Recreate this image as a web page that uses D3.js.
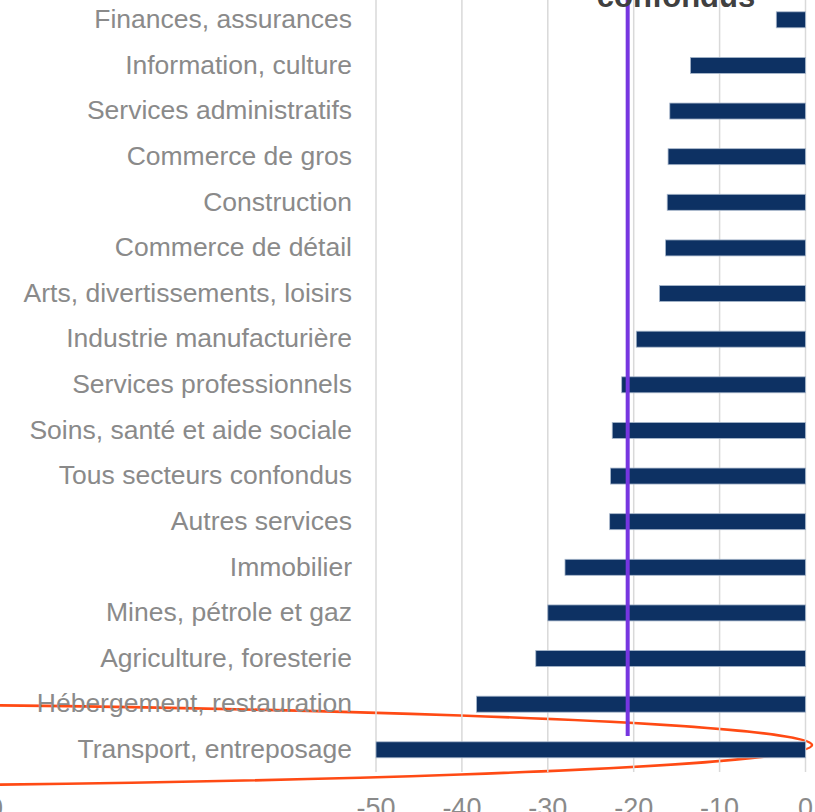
<!DOCTYPE html>
<html><head><meta charset="utf-8">
<script src="https://cdn.jsdelivr.net/npm/d3@7"></script>
<style>html,body{margin:0;padding:0;background:#fff;overflow:hidden}</style>
</head><body>
<svg id="c" width="815" height="812"></svg>
<script>
const categories = ["Finances, assurances","Information, culture","Services administratifs","Commerce de gros","Construction","Commerce de détail","Arts, divertissements, loisirs","Industrie manufacturière","Services professionnels","Soins, santé et aide sociale","Tous secteurs confondus","Autres services","Immobilier","Mines, pétrole et gaz","Agriculture, foresterie","Hébergement, restauration","Transport, entreposage"];
const values = [-3.4,-13.4,-15.8,-16.0,-16.1,-16.3,-17.0,-19.7,-21.4,-22.5,-22.7,-22.8,-28.0,-30.0,-31.4,-38.3,-50.0];
const tickValues = [-50,-40,-30,-20,-10,0];
const averageValue = -20.7;
const averageLabel = "confondus";

const svg = d3.select("#c");
const x = d3.scaleLinear().domain([-50,0]).range([376,805.5]);
const y = d3.scalePoint().domain(categories).range([19.8,749.8]);
const barH = 16;
const font = "'Liberation Sans', Arial, sans-serif";

// annotation ellipse (behind grid)
svg.append("ellipse").attr("cx",-388).attr("cy",745).attr("rx",1200).attr("ry",41.7)
  .attr("fill","none").attr("stroke","#ff4a14").attr("stroke-width",2.6);

// gridlines
svg.append("g").selectAll("line").data(tickValues).join("line")
  .attr("x1",d=>x(d)).attr("x2",d=>x(d)).attr("y1",0).attr("y2",772)
  .attr("stroke","#d9d9d9").attr("stroke-width",1.5);

// bars
svg.append("g").selectAll("rect").data(values).join("rect")
  .attr("x",d=>x(d)).attr("width",d=>x(0)-x(d))
  .attr("y",(d,i)=>y(categories[i])-barH/2).attr("height",barH)
  .attr("fill","#0d3163").attr("stroke","#a9b8cc").attr("stroke-width",0.8);

// category labels
svg.append("g").selectAll("text").data(categories).join("text")
  .attr("x",352).attr("y",d=>y(d)).attr("dy","0.31em")
  .attr("text-anchor","end").attr("font-family",font).attr("font-size",26.5)
  .attr("fill","#8a8a8a").text(d=>d);

// tick labels
svg.append("g").selectAll("text").data(tickValues).join("text")
  .attr("x",d=>x(d)).attr("y",817).attr("text-anchor","middle")
  .attr("font-family",font).attr("font-size",27).attr("fill","#8a8a8a").text(d=>d);
svg.append("text").attr("x",3).attr("y",817).attr("text-anchor","end")
  .attr("font-family",font).attr("font-size",27).attr("fill","#8a8a8a").text("0");

// average line
svg.append("line").attr("x1",x(averageValue)).attr("x2",x(averageValue))
  .attr("y1",0).attr("y2",736).attr("stroke","#7636e0").attr("stroke-width",4);
svg.append("text").attr("x",676).attr("y",7).attr("text-anchor","middle")
  .attr("font-family",font).attr("font-weight","bold").attr("font-size",31)
  .attr("fill","#404040").text(averageLabel);
</script>
</body></html>
